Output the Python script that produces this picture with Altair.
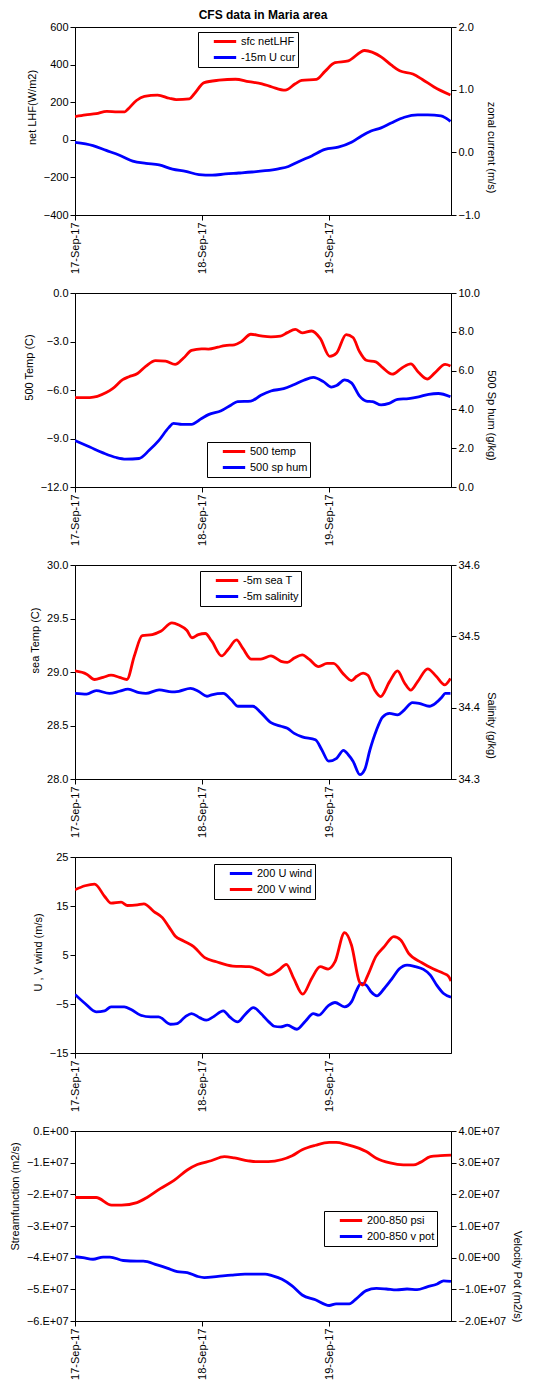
import altair as alt
import pandas as pd

# ---------------- data (hours after 17-Sep-17 00:00, values) ----------------
lhf_h = [0,2,4,6,8,9.4,10,11.6,13.1,15.6,17.8,19.1,21.6,22.5,24.4,27.2,30.3,32.8,35.3,37.2,39.7,41.6,42.8,45.6,47.2,49.1,51.6,54.7,57.8,59.7,61.3,63.8,65.6,67.8,70.9]
lhf_v = [123,132,139,151,149,149,163,209,231,238,221,214,218,244,304,317,322,309,298,281,264,298,316,322,364,410,420,475,441,398,367,350,321,281,238]

ucur_h = [0,3.4,5.9,8.4,10.9,13.4,15.9,18.4,20.9,23.4,25.9,28.4,30.9,33.4,35.9,38.4,40.3,42.2,44.7,47.2,49.7,52.2,54.1,55.9,57.8,59.7,62.2,64.7,66.6,69.1,70.9]
ucur_v = [0.16,0.108,0.031,-0.046,-0.139,-0.175,-0.2,-0.268,-0.304,-0.355,-0.365,-0.345,-0.33,-0.314,-0.293,-0.262,-0.226,-0.149,-0.057,0.046,0.082,0.16,0.262,0.34,0.39,0.468,0.56,0.597,0.597,0.58,0.494]

t500_h = [0,2.8,5.9,7.1,9.0,10.2,11.8,13.4,15.2,17.1,18.9,20.5,22.0,23.9,25.2,27.0,28.3,30.1,31.4,33.2,35.1,37.0,38.8,40.1,41.6,42.9,44.7,46.3,48.1,49.4,51.2,52.5,53.7,55.0,56.8,58.1,59.9,61.8,63.4,64.9,66.5,68.0,69.9,70.9]
t500_v = [-6.47,-6.47,-6.16,-5.92,-5.36,-5.18,-4.98,-4.52,-4.18,-4.22,-4.42,-4.02,-3.55,-3.45,-3.47,-3.35,-3.25,-3.21,-3.01,-2.55,-2.65,-2.71,-2.67,-2.45,-2.25,-2.47,-2.35,-2.81,-3.92,-3.71,-2.57,-2.75,-3.61,-4.16,-4.26,-4.62,-5.02,-4.62,-4.38,-4.92,-5.32,-4.92,-4.42,-4.52]

q500_h = [0,2.8,5.3,7.8,9.6,12.1,14.0,15.8,17.7,18.6,20.2,22.0,23.9,25.2,27.6,29.5,30.7,33.2,35.1,37.0,39.4,41.3,43.2,45.0,46.9,48.4,49.4,50.9,52.2,53.7,55.0,56.2,57.8,59.3,60.9,63.0,64.9,66.8,68.6,70.9]
q500_v = [2.39,2.06,1.76,1.52,1.44,1.47,1.89,2.39,3.06,3.28,3.23,3.23,3.53,3.73,3.93,4.23,4.40,4.43,4.73,4.95,5.07,5.27,5.50,5.65,5.43,5.15,5.23,5.52,5.37,4.70,4.43,4.40,4.23,4.31,4.52,4.56,4.65,4.78,4.82,4.65]

sst_h = [0,2.2,3.7,5.3,6.8,8.4,9.8,11.2,12.7,14.6,16.2,18.3,19.6,21.1,22.1,23.3,24.6,25.8,27.7,28.9,30.5,31.7,33.3,35.1,37.0,38.9,40.1,41.4,42.9,44.2,46.0,47.6,48.8,50.7,52.2,53.2,54.4,55.3,56.6,57.7,59.4,60.9,62.2,63.4,64.7,66.6,68.2,69.8,70.9]
sst_v = [29.01,28.98,28.93,28.95,28.97,28.95,28.93,29.15,29.34,29.35,29.38,29.46,29.44,29.39,29.32,29.35,29.36,29.29,29.15,29.21,29.30,29.22,29.12,29.12,29.15,29.10,29.09,29.13,29.16,29.12,29.05,29.08,29.08,28.98,28.92,28.96,28.99,28.97,28.83,28.77,28.91,29.01,28.90,28.83,28.91,29.03,28.96,28.88,28.94]

sal_h = [0,2.2,4.0,6.5,8.4,10.0,12.1,13.4,15.9,18.3,19.6,21.8,23.3,24.9,25.8,28.0,29.5,30.8,33.6,35.1,37.0,38.9,40.1,41.4,42.9,45.4,46.6,47.9,49.4,50.7,51.6,52.5,53.8,54.7,55.7,56.9,58.1,59.4,60.9,62.2,63.7,65.0,66.9,68.2,69.3,69.9,70.9]
sal_v = [34.420,34.419,34.424,34.420,34.423,34.426,34.421,34.420,34.425,34.422,34.423,34.427,34.423,34.416,34.418,34.420,34.411,34.402,34.402,34.393,34.379,34.374,34.371,34.364,34.359,34.355,34.341,34.325,34.329,34.340,34.334,34.325,34.306,34.313,34.341,34.368,34.387,34.392,34.390,34.397,34.407,34.406,34.402,34.407,34.415,34.420,34.420]

vw_h = [0,1.9,3.7,5.6,6.8,8.7,9.9,11.8,13.0,14.9,16.5,17.7,18.9,20.5,22.4,24.5,26.7,29.8,32.9,34.8,36.6,38.5,39.9,41.3,43.0,44.7,46.3,47.8,49.1,50.9,52.2,53.7,54.3,55.3,56.8,58.4,60.2,61.5,63.0,65.5,67.7,69.6,70.5,71.0]
vw_v = [18.31,19.13,19.47,16.95,15.58,15.78,15.10,15.24,15.44,13.87,12.64,10.80,8.89,7.87,6.71,4.45,3.63,2.75,2.61,1.93,0.90,1.93,3.09,0.22,-2.99,0.22,2.61,2.13,3.63,9.57,7.05,-0.46,-1.14,0.90,4.66,6.71,8.75,8.07,5.34,3.43,2.13,1.25,0.70,-0.32]

uw_h = [0,1.9,4.0,5.6,6.8,9.3,10.6,12.4,14.3,15.8,18.0,19.3,20.8,22.0,23.6,24.8,26.1,28.0,29.2,30.7,32.0,33.7,35.1,36.6,37.6,38.8,40.1,41.9,43.5,45.0,46.0,47.8,49.1,50.9,52.2,53.1,54.0,55.0,55.9,57.0,58.4,59.9,61.2,62.7,64.3,65.8,67.1,68.3,69.6,71.0]
uw_v = [-3.05,-4.90,-6.60,-6.40,-5.58,-5.58,-6.13,-7.29,-7.63,-7.63,-9.13,-8.99,-7.63,-6.95,-7.83,-8.31,-7.63,-6.40,-7.63,-8.65,-7.29,-5.72,-6.95,-8.65,-9.54,-9.68,-9.33,-10.15,-8.52,-6.95,-7.29,-5.38,-4.69,-5.58,-4.56,-2.37,-0.80,-1.14,-2.51,-3.33,-1.83,0.22,2.13,2.95,2.61,2.06,0.90,-1.14,-2.85,-3.60]

# in units of 1E+07 m2/s
psi_h = [0,4.0,6.9,8.8,11.7,13.6,16.1,18.7,21.2,23.1,25.7,28.2,30.1,32.7,34.3,36.5,39.1,41.0,42.9,45.4,48.0,49.3,51.2,53.7,55.0,56.9,59.5,62.0,63.9,65.2,67.1,69.0,71.0]
psi_v = [-2.10,-2.10,-2.34,-2.34,-2.26,-2.10,-1.82,-1.56,-1.23,-1.06,-0.94,-0.81,-0.85,-0.94,-0.97,-0.97,-0.90,-0.78,-0.59,-0.45,-0.36,-0.36,-0.42,-0.55,-0.65,-0.86,-1.01,-1.07,-1.07,-0.99,-0.81,-0.78,-0.76]

vp_h = [0,1.5,3.4,5.3,6.6,9.1,11.7,12.9,15.5,17.4,19.3,21.2,23.1,24.4,27.0,29.5,32.1,35.9,37.2,39.1,41.0,42.9,45.4,48.0,49.3,51.8,53.1,55.0,56.9,58.8,60.7,62.7,64.6,66.5,68.4,69.6,71.0]
vp_v = [0.03,0.00,-0.05,0.02,0.02,-0.09,-0.11,-0.11,-0.23,-0.33,-0.44,-0.47,-0.59,-0.63,-0.59,-0.55,-0.52,-0.52,-0.57,-0.68,-0.89,-1.18,-1.33,-1.51,-1.46,-1.46,-1.30,-1.04,-0.97,-0.99,-1.02,-0.99,-1.01,-0.92,-0.83,-0.73,-0.75]

tick_days = [17, 18, 19]

RED = "#ff0000"
BLUE = "#0000ff"
FONT = "Liberation Sans"
W = 376

START = pd.Timestamp("2017-09-17")


def frame(hours, values, name, scale=1.0):
    return pd.DataFrame({
        "time": [(START + pd.Timedelta(hours=h)).strftime("%Y-%m-%dT%H:%M:%S") for h in hours],
        "value": [v * scale for v in values],
        "series": name,
    })


def x_enc():
    return alt.X(
        "time:T",
        scale=alt.Scale(domain=[alt.DateTime(year=2017, month=9, date=17),
                                alt.DateTime(year=2017, month=9, date=19, hours=23)]),
        axis=alt.Axis(values=[alt.DateTime(year=2017, month=9, date=d) for d in tick_days],
                      format="%d-%b-%y", labelAngle=-90, title=None),
    )


def color_enc(names, colors, lx, ly):
    return alt.Color(
        "series:N",
        scale=alt.Scale(domain=names, range=colors),
        legend=alt.Legend(orient="none", legendX=lx, legendY=ly, title=None),
    )


def line(df, y, color):
    return alt.Chart(df).mark_line(strokeWidth=2.8, interpolate="monotone", clip=True).encode(
        x=x_enc(), y=y, color=color)


def yaxis(domain, values, title, fmt, ty, orient="left", expr=None):
    kw = dict(values=values, title=title, format=fmt, titleY=ty, orient=orient)
    if expr:
        kw["labelExpr"] = expr
    return alt.Y("value:Q", scale=alt.Scale(domain=domain, nice=False, zero=False), axis=alt.Axis(**kw))


# Panel 1
n1 = ["sfc netLHF", "-15m U cur"]
c1 = color_enc(n1, [RED, BLUE], 123, 5)
p1 = alt.layer(
    line(frame(lhf_h, lhf_v, n1[0]), yaxis([-400, 600], [-400, -200, 0, 200, 400, 600], "net LHF(W/m2)", "d", 80), c1),
    line(frame(ucur_h, ucur_v, n1[1]), yaxis([-1, 2], [-1, 0, 1, 2], "zonal current (m/s)", ".1f", 120, "right"), c1),
).resolve_scale(y="independent").properties(
    width=W, height=188,
    title=alt.TitleParams("CFS data in Maria area", offset=-1, anchor="middle"))

# Panel 2
n2 = ["500 temp", "500 sp hum"]
c2 = color_enc(n2, [RED, BLUE], 132, 149)
p2 = alt.layer(
    line(frame(t500_h, t500_v, n2[0]), yaxis([-12, 0], [-12, -9, -6, -3, 0], "500 Temp (C)", ".1f", 74), c2),
    line(frame(q500_h, q500_v, n2[1]), yaxis([0, 10], [0, 2, 4, 6, 8, 10], "500 Sp hum (g/kg)", ".1f", 122, "right"), c2),
).resolve_scale(y="independent").properties(width=W, height=194)

# Panel 3
n3 = ["-5m sea T", "-5m salinity"]
c3 = color_enc(n3, [RED, BLUE], 125, 6)
p3 = alt.layer(
    line(frame(sst_h, sst_v, n3[0]), yaxis([28, 30], [28, 28.5, 29, 29.5, 30], "sea Temp (C)", ".1f", 75), c3),
    line(frame(sal_h, sal_v, n3[1]), yaxis([34.3, 34.6], [34.3, 34.4, 34.5, 34.6], "Salinity (g/kg)", ".1f", 160, "right"), c3),
).resolve_scale(y="independent").properties(width=W, height=214)

# Panel 4
n4 = ["200 U wind", "200 V wind"]
c4 = color_enc(n4, [BLUE, RED], 139, 7)
y4 = yaxis([-15, 25], [-15, -5, 5, 15, 25], "U , V wind (m/s)", "d", 95)
p4 = alt.layer(
    line(frame(uw_h, uw_v, n4[0]), y4, c4),
    line(frame(vw_h, vw_v, n4[1]), y4, c4),
).properties(width=W, height=196)

# Panel 5
n5 = ["200-850 psi", "200-850 v pot"]
c5 = color_enc(n5, [RED, BLUE], 249, 80)
left5 = "datum.value == 0 ? '0.E+00' : format(datum.value / 1e7, 'd') + '.E+07'"
right5 = "datum.value == 0 ? '0.0E+00' : format(datum.value / 1e7, '.1f') + 'E+07'"
p5 = alt.layer(
    line(frame(psi_h, psi_v, n5[0], 1e7),
         yaxis([-6e7, 0], [-6e7, -5e7, -4e7, -3e7, -2e7, -1e7, 0], "Streamfunction (m2/s)", "d", 65, expr=left5), c5),
    line(frame(vp_h, vp_v, n5[1], 1e7),
         yaxis([-2e7, 4e7], [-2e7, -1e7, 0, 1e7, 2e7, 3e7, 4e7], "Velocity Pot (m2/s)", "d", 145, "right", expr=right5), c5),
).resolve_scale(y="independent").properties(width=W, height=190)

chart = alt.vconcat(p1, p2, p3, p4, p5, spacing=78, bounds="flush").resolve_scale(
    color="independent"
).properties(
    padding={"left": 0, "top": 0, "right": 5, "bottom": 0}
).configure_view(
    stroke="black", strokeWidth=1
).configure_axis(
    grid=False, domainColor="black", tickColor="black", labelColor="black", titleColor="black",
    labelFont=FONT, titleFont=FONT, labelFontSize=11, titleFontSize=11, titleFontWeight="normal",
    tickSize=5, labelPadding=2, titlePadding=6, domainWidth=1, tickWidth=1,
).configure_legend(
    strokeColor="black", fillColor="white", padding=2, labelFont=FONT, labelFontSize=11,
    labelColor="black", symbolType="stroke", symbolStrokeWidth=3, symbolSize=500,
    symbolOffset=12, labelOffset=3, rowPadding=1, clipHeight=15,
).configure_title(
    font=FONT, fontSize=12, fontWeight="bold", color="black"
)

chart.save("out.html", embed_options={"renderer": "svg", "actions": False})
